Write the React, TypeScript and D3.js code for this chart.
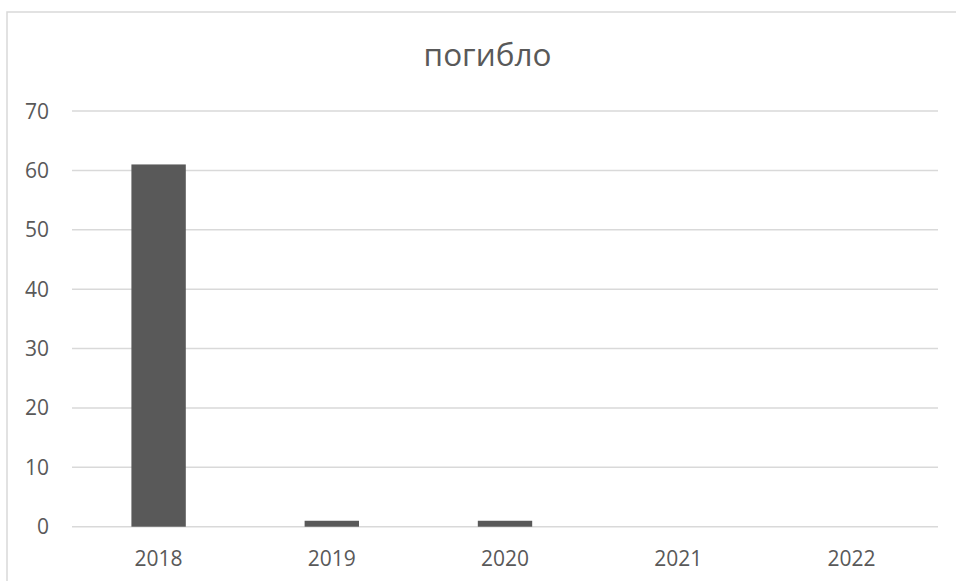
import React from "react";
import { scaleBand, scaleLinear } from "d3";

const title = "погибло";
const years = ["2018", "2019", "2020", "2021", "2022"];
const killed = [61, 1, 1, 0, 0];
const yTicks = [0, 10, 20, 30, 40, 50, 60, 70];

export default function App() {
  const width = 956;
  const height = 581;
  const plot = { left: 72, right: 938, top: 111, bottom: 526.7 };

  const x = scaleBand<string>()
    .domain(years)
    .range([plot.left, plot.right])
    .paddingInner(0.686)
    .paddingOuter(0.343);
  const y = scaleLinear().domain([0, 70]).range([plot.bottom, plot.top]);

  const font = "'Open Sans', sans-serif";
  const textColor = "#595959";
  const grid = "#d9d9d9";

  return (
    <svg
      width={width}
      height={height}
      style={{ position: "absolute", left: 0, top: 0, background: "#fff" }}
    >
      {/* chart area border, runs off the right and bottom */}
      <rect x={7} y={12} width={980} height={600} fill="#fff" stroke={grid} strokeWidth={1.5} />

      <text
        x={487.5}
        y={66}
        textAnchor="middle"
        fontFamily={font}
        fontSize={31.5}
        fill={textColor}
      >
        {title}
      </text>

      {yTicks.map((t) => (
        <g key={t}>
          <line x1={plot.left} x2={plot.right} y1={y(t)} y2={y(t)} stroke={grid} strokeWidth={1.5} />
          <text
            x={49}
            y={y(t)}
            dy="0.36em"
            textAnchor="end"
            fontFamily={font}
            fontSize={21}
            fill={textColor}
          >
            {t}
          </text>
        </g>
      ))}

      {years.map((yr, i) => (
        <g key={yr}>
          {killed[i] > 0 && (
            <rect
              x={x(yr)}
              y={y(killed[i])}
              width={x.bandwidth()}
              height={y(0) - y(killed[i])}
              fill="#595959"
            />
          )}
          <text
            x={(x(yr) ?? 0) + x.bandwidth() / 2}
            y={566}
            textAnchor="middle"
            fontFamily={font}
            fontSize={21}
            fill={textColor}
          >
            {yr}
          </text>
        </g>
      ))}
    </svg>
  );
}
